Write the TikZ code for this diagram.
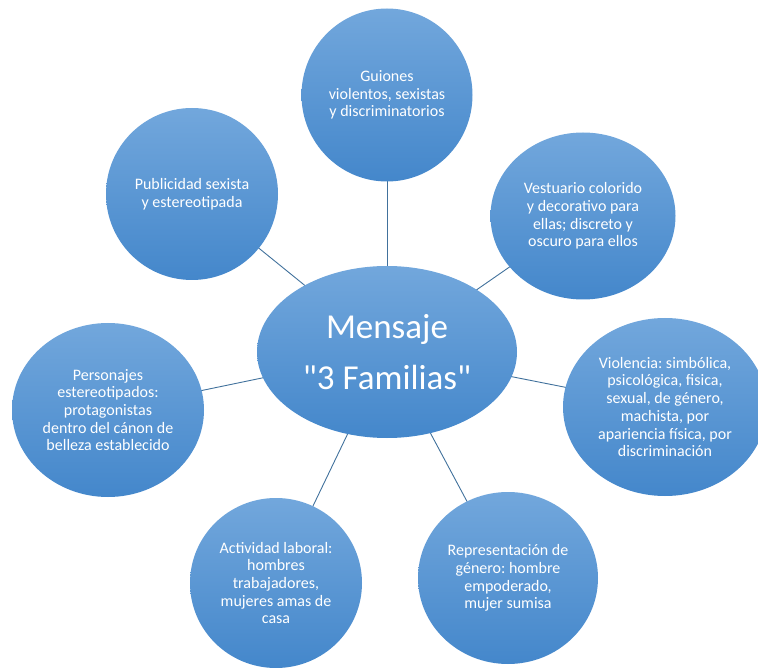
\documentclass[tikz,border=0pt]{standalone}
\usepackage{fontspec}
\setmainfont{Carlito}[Ligatures=TeXOff]
\usetikzlibrary{shapes.geometric}
\frenchspacing
\definecolor{bubbletop}{HTML}{72A7DC}
\definecolor{bubblebot}{HTML}{4487CB}
\definecolor{linkblue}{HTML}{41719C}
\tikzset{
  bubble/.style={ellipse, inner sep=0pt, top color=bubbletop, bottom color=bubblebot,
    text=white, align=center, font=\fontsize{16}{17.7}\selectfont},
  hub/.style={bubble, font=\fontsize{35}{51}\selectfont},
  link/.style={draw=linkblue, line width=0.9pt}
}
\begin{document}
\begin{tikzpicture}[x=1pt, y=-1pt]
  \useasboundingbox (0,0) rectangle (758,668);
  % connectors first, so the bubbles sit on top of them
  \coordinate (c0) at (387,352);
  \coordinate (c1) at (387,95);
  \coordinate (c2) at (192,194);
  \coordinate (c3) at (583,216);
  \coordinate (c4) at (108,410);
  \coordinate (c5) at (665,407);
  \coordinate (c6) at (276,583);
  \coordinate (c7) at (508,578);
  \foreach \k in {1,...,7} \draw[link] (c0) -- (c\k);

  \node[hub, minimum width=260pt, minimum height=172pt] (hub) at (c0) {Mensaje\\"3 Familias"};
  \node[bubble, minimum width=171pt, minimum height=173pt] (guiones) at (c1)
    {Guiones\\violentos, sexistas\\y discriminatorios};
  \node[bubble, minimum width=172pt, minimum height=172pt] (publi) at (c2)
    {Publicidad sexista\\y estereotipada};
  \node[bubble, minimum width=185pt, minimum height=167pt] (vest) at (c3)
    {Vestuario colorido\\y decorativo para\\ellas; discreto y\\oscuro para ellos};
  \node[bubble, minimum width=192pt, minimum height=174pt] (pers) at (c4)
    {Personajes\\estereotipados:\\protagonistas\\dentro del cánon de\\belleza establecido};
  \node[bubble, minimum width=204pt, minimum height=178pt] (viol) at (c5)
    {Violencia: simbólica,\\psicológica, fisica,\\sexual, de género,\\machista, por\\apariencia física, por\\discriminación};
  \node[bubble, minimum width=172pt, minimum height=170pt] (activ) at (c6)
    {Actividad laboral:\\hombres\\trabajadores,\\mujeres amas de\\casa};
  \node[bubble, minimum width=180pt, minimum height=172pt] (repr) at (c7)
    {Representación de\\género: hombre\\empoderado,\\mujer sumisa};
\end{tikzpicture}
\end{document}
